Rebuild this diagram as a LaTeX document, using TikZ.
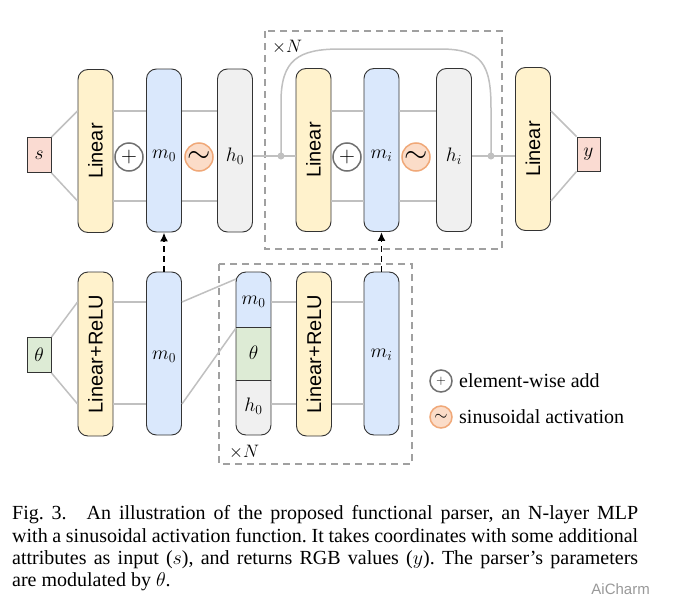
\documentclass[tikz,border=0pt]{standalone}
\usepackage{fix-cm}
\usepackage{fontspec}
\setmainfont{Liberation Serif}
\setsansfont{Liberation Sans}
\usetikzlibrary{arrows.meta}
\definecolor{cyel}{HTML}{FFF2CC}
\definecolor{cblue}{HTML}{DAE8FC}
\definecolor{cgray}{HTML}{F0F0F0}
\definecolor{cpink}{HTML}{FADBD2}
\definecolor{cgreen}{HTML}{DDEBD5}
\definecolor{corfill}{HTML}{FBDCC8}
\definecolor{corline}{HTML}{F0A878}
\definecolor{cline}{HTML}{C0C0C0}
\definecolor{cdash}{HTML}{A0A0A0}
\definecolor{cborder}{HTML}{333333}
\definecolor{cop}{HTML}{707070}
\tikzset{
 layer/.style={draw=cborder, line width=0.9pt, rounded corners=10pt, minimum width=35pt, minimum height=163pt, inner sep=0pt},
 lin/.style={layer, fill=cyel},
 mod/.style={layer, fill=cblue},
 hid/.style={layer, fill=cgray},
 io/.style={draw=cborder, line width=0.9pt, minimum width=24pt, minimum height=35pt, inner sep=0pt, font=\fontsize{19.5}{23}\selectfont},
 conn/.style={draw=cline, line width=1.5pt},
 addop/.style={circle, draw=cop, line width=1.5pt, fill=white, minimum size=28pt, inner sep=0pt, font=\fontsize{22}{22}\selectfont},
 sinop/.style={circle, draw=corline, line width=1.5pt, fill=corfill, minimum size=28pt, inner sep=0pt, font=\fontsize{30}{30}\selectfont},
 repbox/.style={draw=cdash, line width=1.5pt, dash pattern=on 7pt off 5pt},
 modarrow/.style={draw=black, line width=1.8pt, dash pattern=on 6pt off 4pt, -{Latex[length=9pt,width=8pt]}},
 lbl/.style={font=\sffamily\fontsize{20}{24}\selectfont, rotate=90, inner sep=0pt},
 mlbl/.style={font=\fontsize{19.5}{23}\selectfont, inner sep=0pt},
 reptxt/.style={font=\fontsize{18}{20}\selectfont, inner sep=0pt},
 legtxt/.style={font=\fontsize{20}{24}\selectfont, anchor=west, inner sep=0pt},
 captxt/.style={font=\fontsize{20}{22.3}\selectfont\frenchspacing, anchor=base west, inner sep=0pt},
 dot/.style={circle, fill=cline, minimum size=7pt, inner sep=0pt},
}
\begin{document}
\begin{tikzpicture}[x=1pt,y=-1pt]
\useasboundingbox (0,0) rectangle (673,616);
\fill[white] (0,0) rectangle (673,616);
% helper levels
\coordinate (ytop) at (0,111);
\coordinate (ymid) at (0,156);
\coordinate (ybot) at (0,201);
\coordinate (yb1) at (0,302);
\coordinate (yb2) at (0,404);
\coordinate (stA) at (236,279);
\coordinate (stB) at (236,328);

% repeat boxes
\draw[repbox] (265,31) rectangle (502,249);
\node[reptxt] (rep1) at (287,47) {$\times N$};
\draw[repbox] (219,264) rectangle (412,464);
\node[reptxt] (rep2) at (244,452) {$\times N$};

% ---------- top row ----------
\node[io, fill=cpink] (s) at (39,155) {$s$};
\node[lin] (lin1) at (95.5,151) {};
\node[lbl] (lin1t) at (lin1.center) {Linear};
\node[mod] (m0t) at (164,150.5) {};
\node[mlbl] (m0tt) at (164,156) {$m_0$};
\node[hid] (h0) at (235,150.5) {};
\node[mlbl] (h0t) at (235,156) {$h_0$};
\node[addop] (add1) at (129,157) {$+$};
\node[sinop] (sin1) at (199,157) {$\sim$};

\node[lin] (lin2) at (313.5,150) {};
\node[lbl] (lin2t) at (lin2.center) {Linear};
\node[mod] (mit) at (381.5,150) {};
\node[mlbl] (mitt) at (381.5,156) {$m_i$};
\node[hid] (hi) at (454,150) {};
\node[mlbl] (hit) at (454,156) {$h_i$};
\node[addop] (add2) at (347,157) {$+$};
\node[sinop] (sin2) at (416,157) {$\sim$};

\node[lin] (lin3) at (533,149) {};
\node[lbl] (lin3t) at (lin3.center) {Linear};
\node[io, fill=cpink, minimum width=23pt, minimum height=34pt] (y) at (588.5,154) {$y$};

\draw[conn] (s.north east) -- (lin1.west |- ytop);
\draw[conn] (s.south east) -- (lin1.west |- ybot);
\draw[conn] (lin1.east |- ytop) -- (m0t.west |- ytop);
\draw[conn] (lin1.east |- ybot) -- (m0t.west |- ybot);
\draw[conn] (m0t.east |- ytop) -- (h0.west |- ytop);
\draw[conn] (m0t.east |- ybot) -- (h0.west |- ybot);
\draw[conn] (lin2.east |- ytop) -- (mit.west |- ytop);
\draw[conn] (lin2.east |- ybot) -- (mit.west |- ybot);
\draw[conn] (mit.east |- ytop) -- (hi.west |- ytop);
\draw[conn] (mit.east |- ybot) -- (hi.west |- ybot);
\draw[conn] (lin3.east |- ytop) -- (y.north west);
\draw[conn] (lin3.east |- ybot) -- (y.south west);

\coordinate (dlc) at (281,156);
\coordinate (drc) at (491,156);
\draw[conn] (h0.east |- ymid) -- (dlc) -- (lin2.west |- ymid);
\draw[conn] (hi.east |- ymid) -- (drc) -- (lin3.west |- ymid);
\draw[conn] (dlc) -- (281,102) .. controls (281,60) and (298,49) .. (340,49) -- (440,49) .. controls (482,49) and (491,64) .. (491,108) -- (drc);
\node[dot] (dl) at (dlc) {};
\node[dot] (dr) at (drc) {};

% ---------- bottom row ----------
\node[io, fill=cgreen] (th) at (39,355) {$\theta$};
\node[lin, minimum height=164pt] (lr1) at (95.5,354) {};
\node[lbl] (lr1t) at (lr1.center) {Linear+ReLU};
\node[mod] (m0b) at (164,353.5) {};
\node[mlbl] (m0bt) at (164,357) {$m_0$};

\begin{scope}
\clip[rounded corners=10pt] (236,272) rectangle (271,435);
\fill[cblue] (236,272) rectangle (271,327);
\fill[cgreen] (236,327) rectangle (271,380);
\fill[cgray] (236,380) rectangle (271,435);
\end{scope}
\node[layer] (stack) at (253.5,353.5) {};
\draw[cborder, line width=0.9pt] (stack.west |- 0,327) -- (stack.east |- 0,327);
\draw[cborder, line width=0.9pt] (stack.west |- 0,380) -- (stack.east |- 0,380);
\node[mlbl] (stm) at (253.5,302) {$m_0$};
\node[mlbl] (stt) at (253.5,353) {$\theta$};
\node[mlbl] (sth) at (253.5,406) {$h_0$};

\node[lin, minimum height=164pt] (lr2) at (314,354) {};
\node[lbl] (lr2t) at (lr2.center) {Linear+ReLU};
\node[mod] (mib) at (381.5,353.5) {};
\node[mlbl] (mibt) at (381.5,355) {$m_i$};

\draw[conn] (th.north east) -- (lr1.west |- yb1);
\draw[conn] (th.south east) -- (lr1.west |- yb2);
\draw[conn] (lr1.east |- yb1) -- (m0b.west |- yb1);
\draw[conn] (lr1.east |- yb2) -- (m0b.west |- yb2);
\draw[conn] (m0b.east |- yb1) -- (stA);
\draw[conn] (m0b.east |- yb2) -- (stB);
\draw[conn] (stack.east |- yb1) -- (lr2.west |- yb1);
\draw[conn] (stack.east |- yb2) -- (lr2.west |- yb2);
\draw[conn] (lr2.east |- yb1) -- (mib.west |- yb1);
\draw[conn] (lr2.east |- yb2) -- (mib.west |- yb2);

% modulation arrows
\draw[modarrow] (m0b.north) -- (m0t.south);
\draw[modarrow] (mib.north) -- (mit.south);

% legend
\node[addop, minimum size=22pt, font=\fontsize{13}{13}\selectfont] (lga) at (441,381) {$+$};
\node[legtxt] (lgat) at (459,381) {element-wise add};
\node[sinop, minimum size=22pt, font=\fontsize{17}{17}\selectfont] (lgs) at (441,417) {$\sim$};
\node[legtxt] (lgst) at (459,417) {sinusoidal activation};

% caption
\node[captxt] (c1) at (12,519) {\makebox[626pt][s]{Fig. 3.\hskip 1em An illustration of the proposed functional parser, an N-layer MLP}};
\node[captxt] (c2) at (12,542) {\makebox[626pt][s]{with a sinusoidal activation function. It takes coordinates with some additional}};
\node[captxt] (c3) at (12,564.5) {\makebox[626pt][s]{attributes as input ($s$), and returns RGB values ($y$). The parser's parameters}};
\node[captxt] (c4) at (12,586) {are modulated by $\theta$.};
\node[font=\sffamily\fontsize{15}{15}\selectfont, text=black!40, anchor=east, inner sep=0pt] (wm) at (650,589) {AiCharm};
\end{tikzpicture}
\end{document}
